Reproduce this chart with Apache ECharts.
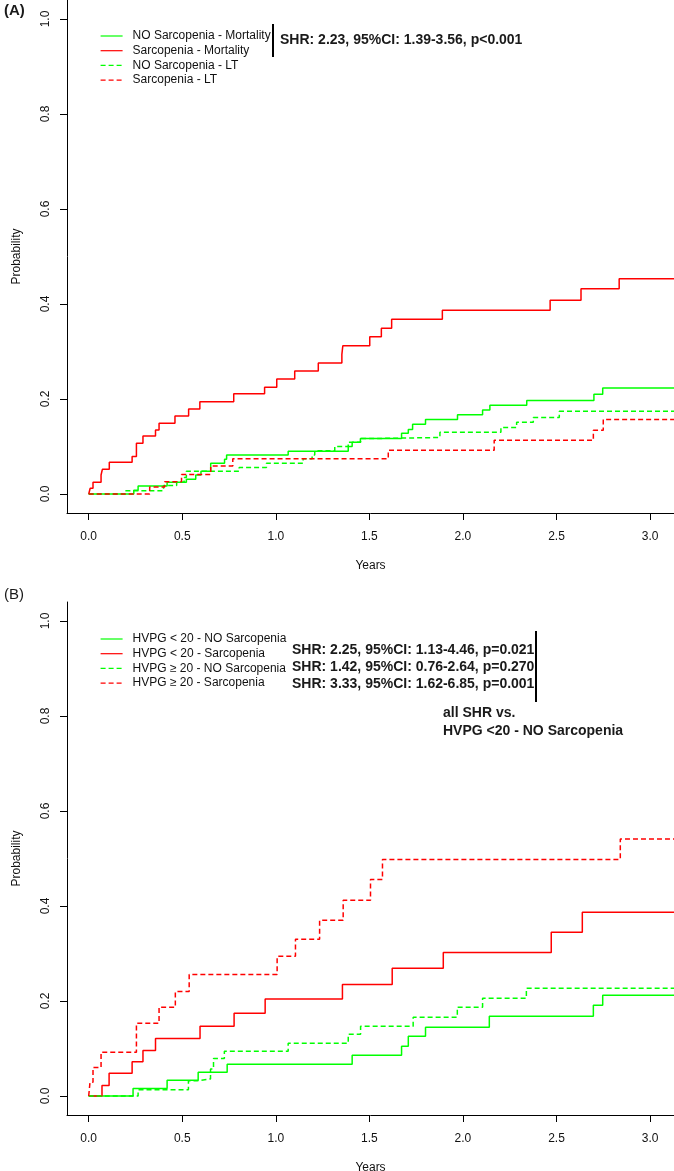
<!DOCTYPE html>
<html>
<head>
<meta charset="utf-8">
<script src="https://cdn.jsdelivr.net/npm/echarts@6/dist/echarts.min.js"></script>
<style>
  html, body { margin: 0; padding: 0; background: #fff; }
  #chart { width: 674px; height: 1171px; }
</style>
</head>
<body>
<div id="chart"></div>
<script>
// tick positions
const X_TICKS = [0, 0.5, 1, 1.5, 2, 2.5, 3]
const Y_TICKS = [0, 0.2, 0.4, 0.6, 0.8, 1]

// panel A : [years, cumulative probability]
const A_NAMES = ['NO Sarcopenia - Mortality', 'Sarcopenia - Mortality', 'NO Sarcopenia - LT', 'Sarcopenia - LT']
const A_NO_SARC_MORT = [[0, 0], [0.241, 0.008], [0.264, 0.017], [0.419, 0.025], [0.522, 0.031], [0.572, 0.04], [0.6, 0.048], [0.652, 0.065], [0.726, 0.073], [0.737, 0.082], [1.066, 0.09], [1.387, 0.1], [1.408, 0.109], [1.452, 0.117], [1.672, 0.128], [1.708, 0.136], [1.731, 0.147], [1.8, 0.157], [1.971, 0.167], [2.105, 0.177], [2.144, 0.187], [2.341, 0.197], [2.7, 0.21], [2.747, 0.223], [3.2, 0.223]]
const A_SARC_MORT = [[0, 0], [0.008, 0.012], [0.023, 0.025], [0.066, 0.04], [0.073, 0.052], [0.11, 0.067], [0.232, 0.079], [0.255, 0.107], [0.29, 0.122], [0.357, 0.135], [0.376, 0.149], [0.461, 0.164], [0.534, 0.179], [0.594, 0.194], [0.775, 0.211], [0.94, 0.225], [1.005, 0.242], [1.101, 0.259], [1.227, 0.276], [1.353, 0.294], [1.358, 0.312], [1.502, 0.331], [1.564, 0.349], [1.619, 0.368], [1.89, 0.387], [2.466, 0.408], [2.631, 0.432], [2.835, 0.453], [3.2, 0.453]]
const A_NO_SARC_LT = [[0, 0], [0.196, 0.007], [0.4, 0.018], [0.47, 0.025], [0.51, 0.035], [0.522, 0.048], [0.804, 0.056], [0.95, 0.065], [1.146, 0.074], [1.194, 0.082], [1.208, 0.091], [1.315, 0.1], [1.387, 0.109], [1.453, 0.117], [1.553, 0.119], [1.877, 0.13], [2.203, 0.14], [2.287, 0.151], [2.376, 0.161], [2.515, 0.174], [3.2, 0.174]]
const A_SARC_LT = [[0, 0], [0.326, 0.015], [0.406, 0.026], [0.496, 0.041], [0.652, 0.059], [0.77, 0.074], [1.601, 0.092], [2.167, 0.113], [2.697, 0.134], [2.75, 0.157], [3.2, 0.157]]
const A_SHR = ['SHR: 2.23, 95%CI: 1.39-3.56, p<0.001']

// panel B
const B_NAMES = ['HVPG < 20 - NO Sarcopenia', 'HVPG < 20 - Sarcopenia', 'HVPG \u2265 20 - NO Sarcopenia', 'HVPG \u2265 20 - Sarcopenia']
const B_LOW_NO_SARC = [[0, 0], [0.237, 0.016], [0.419, 0.033], [0.585, 0.05], [0.74, 0.067], [1.408, 0.086], [1.672, 0.105], [1.708, 0.126], [1.8, 0.145], [2.141, 0.168], [2.697, 0.191], [2.747, 0.212], [3.2, 0.212]]
const B_LOW_SARC = [[0, 0], [0.071, 0.022], [0.109, 0.048], [0.232, 0.072], [0.29, 0.096], [0.357, 0.121], [0.595, 0.147], [0.777, 0.174], [0.943, 0.204], [1.356, 0.235], [1.622, 0.269], [1.895, 0.302], [2.472, 0.345], [2.638, 0.387], [3.2, 0.387]]
const B_HIGH_NO_SARC = [[0, 0], [0.264, 0.013], [0.533, 0.032], [0.58, 0.036], [0.651, 0.057], [0.667, 0.079], [0.725, 0.094], [1.066, 0.111], [1.387, 0.13], [1.453, 0.147], [1.734, 0.166], [1.97, 0.187], [2.105, 0.206], [2.339, 0.227], [3.2, 0.227]]
const B_HIGH_SARC = [[0, 0], [0.007, 0.029], [0.023, 0.06], [0.066, 0.092], [0.255, 0.153], [0.376, 0.187], [0.463, 0.22], [0.537, 0.256], [1.007, 0.294], [1.105, 0.33], [1.234, 0.37], [1.36, 0.412], [1.506, 0.456], [1.57, 0.498], [2.841, 0.541], [3.2, 0.541]]
const B_SHR = ['SHR: 2.25, 95%CI: 1.13-4.46, p=0.021', 'SHR: 1.42, 95%CI: 0.76-2.64, p=0.270', 'SHR: 3.33, 95%CI: 1.62-6.85, p=0.001']
const B_NOTE = ['all SHR vs.', 'HVPG <20 - NO Sarcopenia']

const FONT = '"Liberation Sans", Arial, sans-serif'
const GREEN = '#00ff00'
const RED = '#ff0000'
const DASH = [5, 3]

function xAxis(gridIndex) {
  return {
    type: 'value',
    gridIndex,
    min: -0.116,
    max: 3.128,
    name: 'Years',
    nameLocation: 'middle',
    nameGap: 47,
    nameTextStyle: { fontFamily: FONT, fontSize: 12, color: '#111' },
    splitLine: { show: false },
    axisLine: { onZero: false, lineStyle: { color: '#000', width: 1 } },
    axisTick: { customValues: X_TICKS, length: 7, lineStyle: { color: '#000' } },
    axisLabel: {
      customValues: X_TICKS,
      margin: 18,
      fontFamily: FONT,
      fontSize: 12,
      color: '#111',
      formatter: (v) => v.toFixed(1)
    }
  }
}

function yAxis(gridIndex) {
  return {
    type: 'value',
    gridIndex,
    min: -0.04,
    max: 1.04,
    name: 'Probability',
    nameLocation: 'middle',
    nameGap: 44,
    nameTextStyle: { fontFamily: FONT, fontSize: 12, color: '#111' },
    splitLine: { show: false },
    axisLine: { onZero: false, lineStyle: { color: '#000', width: 1 } },
    axisTick: { customValues: Y_TICKS, length: 7, lineStyle: { color: '#000' } },
    axisLabel: {
      customValues: Y_TICKS,
      rotate: 90,
      margin: 15,
      fontFamily: FONT,
      fontSize: 12,
      color: '#111',
      formatter: (v) => v.toFixed(1)
    }
  }
}

function curve(name, data, color, dashed, idx) {
  return {
    type: 'line',
    name,
    data,
    xAxisIndex: idx,
    yAxisIndex: idx,
    step: 'end',
    symbol: 'none',
    silent: true,
    clip: true,
    lineStyle: { color, width: 1.5, type: dashed ? DASH : 'solid' },
    itemStyle: { color }
  }
}

function legend(names, top) {
  return {
    data: names,
    orient: 'vertical',
    left: 95,
    top,
    itemWidth: 22,
    itemHeight: 8,
    itemGap: 0.7,
    selectedMode: false,
    itemStyle: { opacity: 0 },
    lineStyle: { width: 1.2 },
    textStyle: { fontFamily: FONT, fontSize: 12, color: '#111', lineHeight: 14, padding: [0, 0, 0, 5] }
  }
}

function textItem(str, x, y, font) {
  return {
    type: 'text',
    x,
    y,
    silent: true,
    style: { text: str, font, fill: '#1a1a1a', verticalAlign: 'middle' }
  }
}

function bar(x, y1, y2) {
  return {
    type: 'line',
    silent: true,
    shape: { x1: x, y1, x2: x, y2 },
    style: { stroke: '#000', lineWidth: 2 }
  }
}

const BOLD = 'bold 14px ' + FONT
const chart = echarts.init(document.getElementById('chart'), null, { renderer: 'canvas' })

chart.setOption({
  animation: false,
  backgroundColor: '#fff',
  grid: [
    { left: 67, right: 0, top: 0, height: 513, outerBoundsMode: 'none' },
    { left: 67, right: 0, top: 602, height: 513, outerBoundsMode: 'none' }
  ],
  xAxis: [xAxis(0), xAxis(1)],
  yAxis: [yAxis(0), yAxis(1)],
  legend: [legend(A_NAMES, 24), legend(B_NAMES, 627)],
  series: [
    curve(A_NAMES[0], A_NO_SARC_MORT, GREEN, false, 0),
    curve(A_NAMES[1], A_SARC_MORT, RED, false, 0),
    curve(A_NAMES[2], A_NO_SARC_LT, GREEN, true, 0),
    curve(A_NAMES[3], A_SARC_LT, RED, true, 0),
    curve(B_NAMES[0], B_LOW_NO_SARC, GREEN, false, 1),
    curve(B_NAMES[1], B_LOW_SARC, RED, false, 1),
    curve(B_NAMES[2], B_HIGH_NO_SARC, GREEN, true, 1),
    curve(B_NAMES[3], B_HIGH_SARC, RED, true, 1)
  ],
  graphic: [
    textItem('(A)', 4, 11, 'bold 15px ' + FONT),
    textItem('(B)', 4, 595, '15px ' + FONT),
    bar(273, 24, 57),
    textItem(A_SHR[0], 280, 40, BOLD),
    bar(536, 631, 702),
    textItem(B_SHR[0], 292, 650, BOLD),
    textItem(B_SHR[1], 292, 667, BOLD),
    textItem(B_SHR[2], 292, 684, BOLD),
    textItem(B_NOTE[0], 443, 713, BOLD),
    textItem(B_NOTE[1], 443, 731, BOLD)
  ]
})
</script>
</body>
</html>
